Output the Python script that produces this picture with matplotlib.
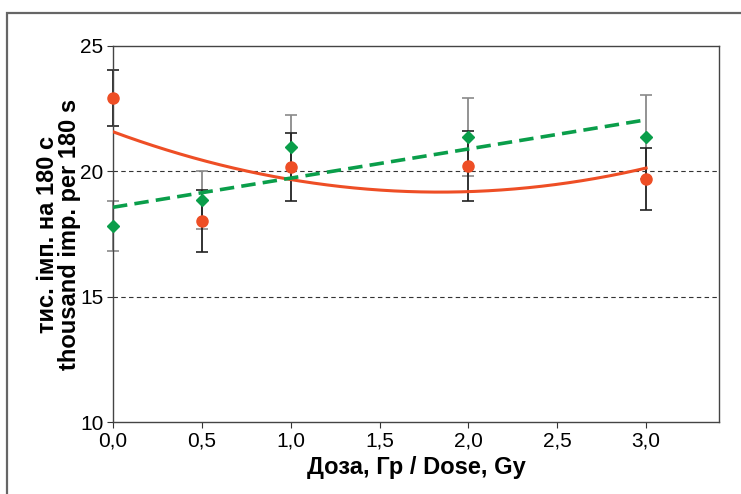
import matplotlib
matplotlib.use("Agg")
import matplotlib.pyplot as plt
import numpy as np
from matplotlib.patches import Rectangle

dose = np.array([0.0, 0.5, 1.0, 2.0, 3.0])
orange_y = np.array([22.93, 18.02, 20.17, 20.21, 19.69])
orange_err = np.array([1.12, 1.22, 1.36, 1.40, 1.25])
green_y = np.array([17.82, 18.86, 20.97, 21.37, 21.37])
green_err = np.array([1.0, 1.17, 1.28, 1.54, 1.68])
x_ticks = [0.0, 0.5, 1.0, 1.5, 2.0, 2.5, 3.0]
x_tick_labels = ["0,0", "0,5", "1,0", "1,5", "2,0", "2,5", "3,0"]
y_ticks = [10, 15, 20, 25]

plt.rcParams["font.family"] = ["Liberation Sans", "DejaVu Sans"]

orange = "#EE4E25"
green = "#0A9E4A"

fig = plt.figure(figsize=(7.41, 4.94), dpi=100)
fig.patches.append(Rectangle((0.0094, -0.1), 1.2, 0.974 + 0.1, transform=fig.transFigure,
                             fill=False, edgecolor="#666666", linewidth=1.6))
ax = fig.add_axes([0.1525, 0.1457, 0.8178, 0.7612])

for yl in (15, 20):
    ax.axhline(yl, color="#333333", linestyle=(0, (4, 3)), linewidth=0.8, zorder=1)

eb_g = ax.errorbar(dose, green_y, yerr=green_err, fmt="none", ecolor="#8a8a8a", elinewidth=1.3,
                   capsize=4, capthick=1.2, zorder=2)
eb_o = ax.errorbar(dose, orange_y, yerr=orange_err, fmt="none", ecolor="#222222", elinewidth=1.3,
                   capsize=4, capthick=1.2, zorder=2)
for eb in (eb_g, eb_o):
    for art in eb.lines[1] + eb.lines[2]:
        art.set_clip_on(False)

xs = np.linspace(0, 3, 200)
lin = np.polyfit(dose, green_y, 1)
quad = np.polyfit(dose, orange_y, 2)
ax.plot(xs, np.polyval(quad, xs), color=orange, linewidth=2.2, zorder=3)
ax.plot(xs, np.polyval(lin, xs), color=green, linewidth=2.6, linestyle=(0, (4, 2)), zorder=3)

ax.plot(dose, orange_y, "o", color=orange, markersize=8, zorder=4, clip_on=False)
ax.plot(dose, green_y, "D", color=green, markersize=6, zorder=4, clip_on=False)

ax.set_xlim(0, 3.41)
ax.set_ylim(10, 25)
ax.set_xticks(x_ticks)
ax.set_xticklabels(x_tick_labels)
ax.set_yticks(y_ticks)
ax.tick_params(labelsize=15, length=4, color="#333333", pad=3)
for s in ax.spines.values():
    s.set_color("#444444")
    s.set_linewidth(1.0)

ax.set_xlabel("Доза, Гр / Dose, Gy", fontsize=17, fontweight="bold", labelpad=4)
ax.set_ylabel("тис. імп. на 180 с\nthousand imp. per 180 s", fontsize=17,
              fontweight="bold", linespacing=0.95, labelpad=-1)

fig.savefig("out.png", dpi=100)
